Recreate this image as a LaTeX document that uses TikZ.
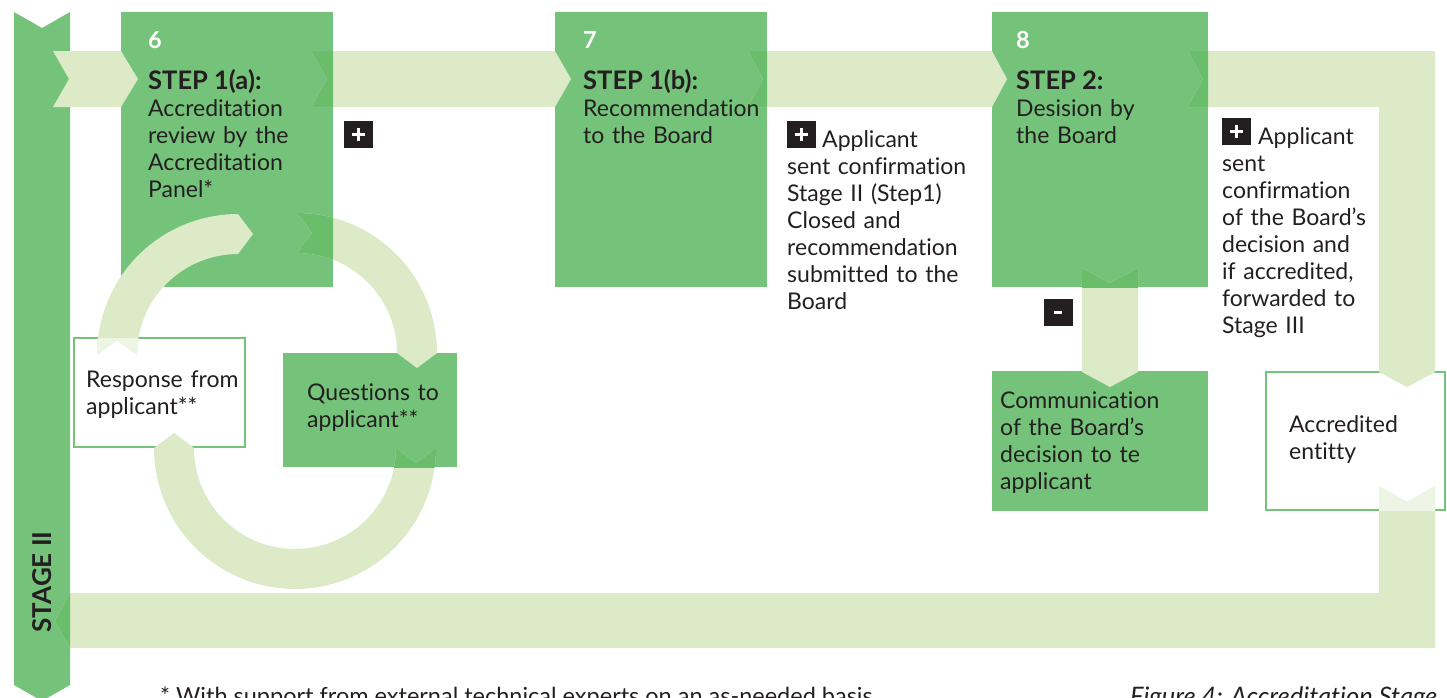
\documentclass[tikz,border=0pt]{standalone}
\usepackage{fontspec}
\setmainfont{Lato}[Ligatures={NoCommon,NoContextual}]
\usetikzlibrary{calc}
\definecolor{boxgreen}{RGB}{117,195,122}
\definecolor{band}{RGB}{221,234,199}
\definecolor{overlap}{RGB}{106,189,107}
\definecolor{pale}{RGB}{238,245,229}
\definecolor{ink}{RGB}{35,31,32}
\newcommand\bodytext{\fontsize{23}{27}\selectfont}
\newcommand\titlefont{\fontsize{25.5}{27}\selectfont\bfseries}
\newcommand\numfont{\fontsize{23.5}{27}\selectfont\bfseries}
\newcommand\notefont{\fontsize{23.5}{26}\selectfont}
\begin{document}
\begin{tikzpicture}[x=1pt,y=-1pt,
  greenbox/.style={fill=boxgreen,draw=none,inner sep=0pt,outer sep=0pt,anchor=north west},
  whitebox/.style={fill=white,draw=boxgreen,line width=2.5pt,inner sep=0pt,outer sep=0pt,anchor=north west},
  txtblock/.style={anchor=base west,inner sep=0pt,text width=300pt,align=left,font=\bodytext,text=ink},
  titletxt/.style={anchor=base west,inner sep=0pt,font=\titlefont,text=ink},
  numtxt/.style={anchor=base west,inner sep=0pt,font=\numfont,text=white},
  markbox/.style={fill=ink,minimum width=28.5pt,minimum height=27pt,inner sep=0pt},
  marksign/.style={white,line width=3.4pt},
  % band shapes (light green arrows)
  segA/.style={insert path={(53,51) -- (121,51) -- (138,79) -- (121,107) -- (53,107) -- (69,79) -- cycle}},
  segB/.style={insert path={(311,51) -- (555,51) -- (571,79) -- (555,107) -- (311,107) -- (327,79) -- cycle}},
  segC/.style={insert path={(748,51) -- (992,51) -- (1007,79) -- (992,107) -- (748,107) -- (763,79) -- cycle}},
  segD/.style={insert path={(1188,51) -- (1435,51) -- (1435,372) -- (1407,387) -- (1379,372) -- (1379,107) -- (1188,107) -- (1203,79) -- cycle}},
  segE/.style={insert path={(1379,486) -- (1407,502) -- (1435,486) -- (1435,648) -- (70,648) -- (55,621) -- (70,593) -- (1379,593) -- cycle}},
  segDown/.style={insert path={(1082,268) -- (1110,283) -- (1138,268) -- (1138,372) -- (1110,387) -- (1082,372) -- cycle}},
  loopA/.style={insert path={plot[domain=180:270,samples=40] ({238+141*cos(\x)},{355+141*sin(\x)}) -- (253,234) -- plot[domain=270:180,samples=40] ({238+101*cos(\x)},{355+101*sin(\x)}) -- (117,340) -- cycle}},
  loopB/.style={insert path={plot[domain=270:360,samples=40] ({297+140*cos(\x)},{353+140*sin(\x)}) -- (417,368) -- plot[domain=360:270,samples=40] ({297+100*cos(\x)},{353+100*sin(\x)}) -- (312,233) -- cycle}},
  loopC/.style={insert path={plot[domain=0:180,samples=60] ({295+141*cos(\x)},{448+141*sin(\x)}) -- (174,433) -- plot[domain=180:0,samples=60] ({295+101*cos(\x)},{448+101*sin(\x)}) -- (416,463) -- cycle}},
]
\useasboundingbox (0,0) rectangle (1447,697);
\begin{scope}
\clip (0,0) rectangle (1447,697);

% stage bar on the left
\fill[boxgreen] (14,12) -- (42,28) -- (70,12) -- (70,685) -- (42,701) -- (14,685) -- cycle;

% boxes
\node[greenbox,minimum width=212pt,minimum height=275pt] (s6) at (121,12) {};
\node[greenbox,minimum width=212pt,minimum height=275pt] (s7) at (555,12) {};
\node[greenbox,minimum width=216pt,minimum height=275pt] (s8) at (992,12) {};
\node[greenbox,minimum width=174pt,minimum height=114pt] (quest) at (283,353) {};
\node[whitebox,minimum width=171pt,minimum height=109pt] (resp) at (74.2,338.2) {};
\node[greenbox,minimum width=216pt,minimum height=140pt] (comm) at (992,371) {};
\node[whitebox,minimum width=179pt,minimum height=138pt] (accr) at (1266.2,372.2) {};

% light arrows
\fill[band] [segA];
\fill[band] [segB];
\fill[band] [segC];
\fill[band] [segD];
\fill[band] [segE];
\fill[band] [segDown];
\fill[band] [loopA];
\fill[band] [loopB];
\fill[band] [loopC];

% arrow tails lying over the boxes
\begin{scope}
  \clip (s6.north west) rectangle (s6.south east);
  \fill[overlap] [segB];
  \fill[overlap] [loopB];
\end{scope}
\begin{scope}
  \clip (s7.north west) rectangle (s7.south east);
  \fill[overlap] [segC];
\end{scope}
\begin{scope}
  \clip (s8.north west) rectangle (s8.south east);
  \fill[overlap] [segD];
  \fill[overlap] [segDown];
\end{scope}
\begin{scope}
  \clip (quest.north west) rectangle (quest.south east);
  \fill[overlap] [loopC];
\end{scope}
\begin{scope}
  \clip (resp.north west) rectangle (resp.south east);
  \fill[pale] [loopA];
\end{scope}
\begin{scope}
  \clip (accr.north west) rectangle (accr.south east);
  \fill[pale] [segE];
\end{scope}
\begin{scope}
  \clip (14,12) rectangle (70,697);
  \fill[overlap] [segE];
\end{scope}

% plus / minus markers
\node[markbox] (p6) at (358.3,134.5) {};
\draw[marksign] ([xshift=-6.5pt]p6.center) -- ([xshift=6.5pt]p6.center)
                ([yshift=-6.5pt]p6.center) -- ([yshift=6.5pt]p6.center);
\node[markbox] (p7) at (801.3,134.5) {};
\draw[marksign] ([xshift=-6.5pt]p7.center) -- ([xshift=6.5pt]p7.center)
                ([yshift=-6.5pt]p7.center) -- ([yshift=6.5pt]p7.center);
\node[markbox] (p8) at (1236.5,131.7) {};
\draw[marksign] ([xshift=-6.5pt]p8.center) -- ([xshift=6.5pt]p8.center)
                ([yshift=-6.5pt]p8.center) -- ([yshift=6.5pt]p8.center);
\node[markbox] (m8) at (1058.3,312.3) {};
\draw[marksign] ([xshift=-4pt]m8.center) -- ([xshift=4pt]m8.center);

% step texts
\node[numtxt] (n6) at (148,48) {6};
\node[titletxt] (t6) at (148,89) {STEP 1(a):};
\node[txtblock] (d6) at (148,116) {Accreditation\\review by the\\Accreditation\\Panel*};

\node[numtxt] (n7) at (583,48) {7};
\node[titletxt] (t7) at (583,89) {STEP 1(b):};
\node[txtblock] (d7) at (583,116) {Recommendation\\to the Board};

\node[numtxt] (n8) at (1016,48) {8};
\node[titletxt] (t8) at (1016,89) {STEP 2:};
\node[txtblock] (d8) at (1016,116) {Desision by\\the Board};

% outcome notes
\node[txtblock] (o7) at (787,147) {\hspace*{35pt}Applicant\\sent confirmation\\Stage II (Step1)\\Closed and\\recommendation\\submitted to the\\Board};
\node[txtblock] (o8) at (1222,144) {\hspace*{36pt}Applicant\\sent\\confirmation\\of the Board’s\\decision and\\if accredited,\\forwarded to\\Stage III};

% small boxes
\node[txtblock] (rt) at (86,387) {Response from\\applicant**};
\node[txtblock] (qt) at (307,400) {Questions to\\applicant**};
\node[txtblock] (ct) at (1000,408) {Communication\\of the Board’s\\decision to te\\applicant};
\node[txtblock] (at) at (1289,432) {Accredited\\entitty};

% stage label
\node[rotate=90,inner sep=0pt,font=\fontsize{26}{28}\selectfont\bfseries,text=ink] (stage) at (42,582) {STAGE II};

% footnotes
\node[anchor=base west,inner sep=0pt,font=\notefont,text=ink] (fn) at (160,704) {* With support from external technical experts on an as-needed basis};
\node[anchor=base west,inner sep=0pt,font=\fontsize{25.5}{28}\selectfont\itshape,text=ink] (fig) at (1130,705) {Figure 4: Accreditation Stage};
\end{scope}
\end{tikzpicture}
\end{document}
